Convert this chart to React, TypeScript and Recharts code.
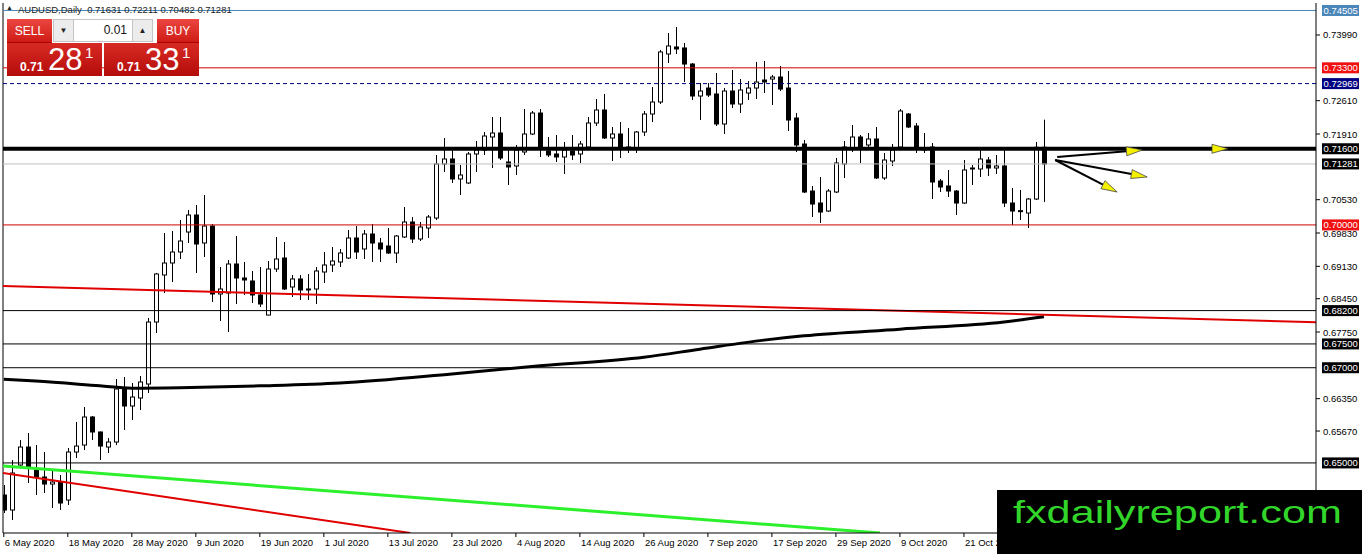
import React from 'react';
import { ComposedChart, Bar, Line, XAxis, YAxis, ReferenceLine } from 'recharts';

const FONT = '"Liberation Sans", Arial, sans-serif';

// AUDUSD daily candles, 6 May 2020 .. 4 Nov 2020
const opens = [
    0.64326, 0.64011, 0.64956, 0.65334, 0.64851, 0.64704, 0.64557, 0.64599, 0.64221, 0.65229,
    0.65376, 0.65965, 0.65650, 0.65334, 0.65439, 0.66553, 0.66196, 0.66364, 0.66658, 0.67960,
    0.68948, 0.69200, 0.69431, 0.69851, 0.70208, 0.69620, 0.69977, 0.68549, 0.68570, 0.69179,
    0.68885, 0.68822, 0.68528, 0.68107, 0.69074, 0.69305, 0.68696, 0.68864, 0.68654, 0.68654,
    0.69011, 0.69158, 0.69221, 0.69305, 0.69725, 0.69494, 0.69809, 0.69620, 0.69557, 0.69410,
    0.69746, 0.70061, 0.69704, 0.69935, 0.70145, 0.71280, 0.71385, 0.70965, 0.70881, 0.71490,
    0.71574, 0.71847, 0.71931, 0.71322, 0.71238, 0.71532, 0.71910, 0.72351, 0.71553, 0.71490,
    0.71427, 0.71553, 0.71490, 0.71637, 0.72141, 0.72414, 0.71826, 0.71910, 0.71595, 0.71616,
    0.71952, 0.72330, 0.72582, 0.73591, 0.73738, 0.73717, 0.73380, 0.72708, 0.72876, 0.72750,
    0.72120, 0.72813, 0.72540, 0.72771, 0.72876, 0.73044, 0.73065, 0.73107, 0.72876, 0.72246,
    0.71700, 0.70712, 0.70460, 0.70292, 0.70691, 0.71280, 0.71616, 0.71847, 0.71679, 0.71805,
    0.70986, 0.71343, 0.71637, 0.72330, 0.72078, 0.71616, 0.71637, 0.70923, 0.70818, 0.70712,
    0.70460, 0.71175, 0.71175, 0.71364, 0.71196, 0.71238, 0.70460, 0.70292, 0.70250, 0.70544,
    0.71631,
];
const highs = [
    0.64536, 0.65061, 0.65481, 0.65629, 0.65376, 0.65229, 0.64851, 0.64746, 0.65313, 0.65860,
    0.66175, 0.65986, 0.65660, 0.65523, 0.66763, 0.66805, 0.66679, 0.66826, 0.68044, 0.68990,
    0.69830, 0.69872, 0.70103, 0.70313, 0.70418, 0.70628, 0.70019, 0.69116, 0.69263, 0.69767,
    0.69221, 0.69032, 0.69116, 0.69242, 0.69746, 0.69641, 0.68948, 0.68948, 0.68969, 0.69116,
    0.69431, 0.69536, 0.69494, 0.69893, 0.69977, 0.69893, 0.70019, 0.69725, 0.69935, 0.69788,
    0.70376, 0.70166, 0.70061, 0.70208, 0.71469, 0.71826, 0.71574, 0.71259, 0.71532, 0.71763,
    0.71952, 0.72267, 0.72267, 0.71616, 0.71679, 0.72435, 0.72393, 0.72435, 0.71847, 0.71889,
    0.71742, 0.71889, 0.71763, 0.72267, 0.72645, 0.72750, 0.72057, 0.72162, 0.72036, 0.71973,
    0.72393, 0.72897, 0.73675, 0.74032, 0.74158, 0.73822, 0.73401, 0.72981, 0.72981, 0.73191,
    0.72876, 0.73254, 0.73065, 0.73023, 0.73423, 0.73444, 0.73149, 0.73338, 0.73233, 0.72351,
    0.71784, 0.70818, 0.71007, 0.70754, 0.71406, 0.71763, 0.72099, 0.71889, 0.71931, 0.72057,
    0.71511, 0.71700, 0.72435, 0.72351, 0.72141, 0.71931, 0.71721, 0.70965, 0.71154, 0.70733,
    0.71364, 0.71259, 0.71574, 0.71427, 0.71469, 0.71574, 0.70775, 0.70733, 0.70565, 0.71742,
    0.72211,
];
const lows = [
    0.63948, 0.63801, 0.64914, 0.64578, 0.64326, 0.64368, 0.64053, 0.64011, 0.64116, 0.65103,
    0.65271, 0.65481, 0.65061, 0.65208, 0.65376, 0.65692, 0.65902, 0.66112, 0.66469, 0.67729,
    0.68570, 0.68801, 0.69284, 0.69620, 0.68990, 0.69326, 0.68381, 0.67981, 0.67750, 0.68339,
    0.68528, 0.68360, 0.68276, 0.68100, 0.69011, 0.68633, 0.68486, 0.68423, 0.68423, 0.68339,
    0.68780, 0.69011, 0.69116, 0.69284, 0.69284, 0.69284, 0.69221, 0.69221, 0.69389, 0.69200,
    0.69725, 0.69620, 0.69662, 0.69725, 0.70103, 0.71112, 0.70881, 0.70628, 0.70860, 0.71112,
    0.71469, 0.71196, 0.71364, 0.70839, 0.71049, 0.71469, 0.71889, 0.71427, 0.71427, 0.71322,
    0.71070, 0.71364, 0.71301, 0.71616, 0.72078, 0.71805, 0.71343, 0.71406, 0.71511, 0.71511,
    0.71868, 0.72162, 0.72540, 0.73401, 0.73591, 0.73002, 0.72624, 0.72204, 0.72687, 0.72078,
    0.71910, 0.72456, 0.72351, 0.72624, 0.72645, 0.72771, 0.72519, 0.72813, 0.71973, 0.71532,
    0.70670, 0.70166, 0.70040, 0.70271, 0.70670, 0.70986, 0.71532, 0.71301, 0.71637, 0.70965,
    0.70944, 0.71238, 0.71616, 0.72036, 0.71511, 0.71511, 0.70544, 0.70691, 0.70586, 0.70208,
    0.70440, 0.70839, 0.71007, 0.71028, 0.71070, 0.70376, 0.69998, 0.70103, 0.69935, 0.70523,
    0.70482,
];
const closes = [
    0.64011, 0.64788, 0.65334, 0.64914, 0.64704, 0.64557, 0.64599, 0.64158, 0.65229, 0.65355,
    0.65965, 0.65650, 0.65355, 0.65439, 0.66553, 0.66196, 0.66385, 0.66700, 0.67960, 0.68969,
    0.69200, 0.69431, 0.69662, 0.70208, 0.69599, 0.69977, 0.68549, 0.68654, 0.69179, 0.68885,
    0.68843, 0.68528, 0.68339, 0.69074, 0.69284, 0.68654, 0.68864, 0.68633, 0.68633, 0.69032,
    0.69158, 0.69242, 0.69410, 0.69725, 0.69431, 0.69809, 0.69620, 0.69494, 0.69410, 0.69767,
    0.70061, 0.69704, 0.69956, 0.70166, 0.71280, 0.71385, 0.70965, 0.71049, 0.71490, 0.71574,
    0.71868, 0.71931, 0.71406, 0.71217, 0.71574, 0.71910, 0.72351, 0.71616, 0.71469, 0.71427,
    0.71574, 0.71469, 0.71700, 0.72141, 0.72414, 0.71826, 0.71910, 0.71616, 0.71637, 0.71952,
    0.72330, 0.72582, 0.73633, 0.73759, 0.73696, 0.73380, 0.72708, 0.72813, 0.72729, 0.72120,
    0.72813, 0.72540, 0.72834, 0.72876, 0.73002, 0.73002, 0.73107, 0.72855, 0.72204, 0.71679,
    0.70691, 0.70439, 0.70271, 0.70712, 0.71301, 0.71637, 0.71847, 0.71637, 0.71805, 0.70986,
    0.71364, 0.71574, 0.72393, 0.72057, 0.71637, 0.71574, 0.70902, 0.70797, 0.70712, 0.70460,
    0.71154, 0.71196, 0.71385, 0.71196, 0.71238, 0.70460, 0.70292, 0.70300, 0.70544, 0.71631,
    0.71281,
];

// time axis: one label every 8 bars
const dateTickIndex = [1, 9, 17, 25, 33, 41, 49, 57, 65, 73, 81, 89, 97, 105, 113, 121];
const dateTickLabels = [
    '6 May 2020', '18 May 2020', '28 May 2020', '9 Jun 2020', '19 Jun 2020', '1 Jul 2020',
    '13 Jul 2020', '23 Jul 2020', '4 Aug 2020', '14 Aug 2020', '26 Aug 2020', '7 Sep 2020',
    '17 Sep 2020', '29 Sep 2020', '9 Oct 2020', '21 Oct 2020',
];
const priceTicks = [0.7399, 0.7261, 0.7191, 0.7053, 0.6983, 0.6913, 0.6845, 0.6775, 0.6635, 0.6567];

// moving average, read at a few bars
const maIndex = [1, 5, 13, 17, 23, 33, 43, 57, 68, 81, 88, 96, 101, 113, 126, 131];
const maValues = [0.6676, 0.6672, 0.6662, 0.6657, 0.6658, 0.6662, 0.6668, 0.6687, 0.6704, 0.6722, 0.6739, 0.6758, 0.6767, 0.6781, 0.6796, 0.6807];

// horizontal levels
const levelPrices = [0.74505, 0.733, 0.72969, 0.716, 0.71281, 0.7, 0.682, 0.675, 0.67, 0.65];
const levelColors = ['#4a86b8', '#d40000', '#000080', '#000000', '#c0c0c0', '#d40000', '#000000', '#000000', '#000000', '#000000'];
const levelTagColors = ['#4a86b8', '#f01010', '#000080', '#000000', '#000000', '#f01010', '#000000', '#000000', '#000000', '#000000'];
const levelWidths = [1, 1, 1, 4, 1, 1, 1, 1, 1, 1];
const levelDash = ['', '', '4 3', '', '', '', '', '', '', ''];

// trend lines: [bar, price] endpoints
const trendUpperRed = [[0.9, 0.68717], [165, 0.67956]];
const trendGreen = [[0.9, 0.64935], [110.5, 0.63528]];
const trendLowerRed = [[0.9, 0.64788], [51.8, 0.63528]];

// arrows: [fromBar, fromPrice, toBar, toPrice]
const arrows = [
    [132.65, 0.71427, 143.3, 0.71574],
    [132.4, 0.71364, 143.9, 0.71007],
    [132.4, 0.71364, 140.15, 0.70691],
    [150.0, 0.716, 154.0, 0.716],
];

const X_DOMAIN = [0.9, 165];
const Y_DOMAIN = [0.63528, 0.74662];

const data = opens.map((open, k) => {
    const i = k + 1;
    const m = maIndex.indexOf(i);
    return { i, open, high: highs[k], low: lows[k], close: closes[k], ma: m >= 0 ? maValues[m] : null };
});

const Candle = (props: any) => {
    const { x, width, payload } = props;
    let { y, height } = props;
    if (height < 0) {
        y += height;
        height = -height;
    }
    const { open, close, high, low } = payload;
    const span = high - low || 1;
    const toY = (v: number) => y + ((high - v) / span) * height;
    const cx = Math.round(x + width / 2) + 0.5;
    const top = toY(Math.max(open, close));
    const bottom = toY(Math.min(open, close));
    const up = close >= open;
    return (
        <g>
            <line x1={cx} x2={cx} y1={y} y2={y + height} stroke="#000" strokeWidth={1} />
            <rect x={cx - 2} y={top} width={4} height={Math.max(bottom - top, 1)} fill={up ? '#fff' : '#000'} stroke="#000" strokeWidth={1} />
        </g>
    );
};

const DateTick = (props: any) => {
    const { x, y, payload } = props;
    const k = dateTickIndex.indexOf(payload.value);
    return (
        <g>
            <line x1={x} x2={x} y1={y} y2={y + 4} stroke="#000" />
            <text x={x + 1} y={y + 13} fontSize={9.5} fontFamily={FONT} fill="#000" textAnchor="start">
                {dateTickLabels[k]}
            </text>
        </g>
    );
};

const PriceTick = (props: any) => {
    const { x, y, payload } = props;
    return (
        <g>
            <line x1={x} x2={x + 4} y1={y} y2={y} stroke="#000" />
            <text x={x + 7} y={y + 3.5} fontSize={9.5} fontFamily={FONT} fill="#000" textAnchor="start">
                {Number(payload.value).toFixed(5)}
            </text>
        </g>
    );
};

const LevelTag = (props: any) => {
    const { viewBox, bg, text } = props;
    if (!viewBox) return null;
    const x = viewBox.x + viewBox.width + 6;
    const y = viewBox.y;
    return (
        <g>
            <rect x={x} y={y - 5.5} width={37} height={11} fill={bg} />
            <text x={x + 1.5} y={y + 3.5} fontSize={9.5} fontFamily={FONT} fill="#fff">
                {text}
            </text>
        </g>
    );
};

const ArrowShape = (props: any) => {
    const { x1, y1, x2, y2 } = props;
    if ([x1, y1, x2, y2].some((v) => typeof v !== 'number' || isNaN(v))) return null;
    const dx = x2 - x1;
    const dy = y2 - y1;
    const len = Math.sqrt(dx * dx + dy * dy) || 1;
    const ux = dx / len;
    const uy = dy / len;
    const bx = x2 - ux * 16;
    const by = y2 - uy * 16;
    const head = `${x2},${y2} ${bx - uy * 4.5},${by + ux * 4.5} ${bx + uy * 4.5},${by - ux * 4.5}`;
    return (
        <g>
            <line x1={x1} y1={y1} x2={bx} y2={by} stroke="#000" strokeWidth={2} />
            <polygon points={head} fill="#f5f000" stroke="#444" strokeWidth={0.8} />
        </g>
    );
};

const TradeBox = ({ left, big }: { left: number; big: string }) => (
    <div
        style={{
            position: 'absolute',
            left,
            top: 43,
            width: 95,
            height: 33,
            background: 'linear-gradient(#d82a24, #b40c0a)',
            color: '#fff',
        }}
    >
        <span style={{ position: 'absolute', left: 13, top: 17, fontSize: 12, fontWeight: 'bold', lineHeight: '14px' }}>0.71</span>
        <span style={{ position: 'absolute', left: 41, top: 1, fontSize: 31, lineHeight: '32px' }}>{big}</span>
        <span style={{ position: 'absolute', left: 78, top: 2, fontSize: 15, lineHeight: '16px' }}>1</span>
    </div>
);

export default function App() {
    return (
        <div
            style={{
                position: 'fixed',
                left: 0,
                top: 0,
                width: 1362,
                height: 554,
                background: '#fff',
                overflow: 'hidden',
                fontFamily: FONT,
            }}
        >
            <ComposedChart width={1362} height={554} data={data} margin={{ top: 3, right: 0, bottom: 0, left: 3 }}>
                <XAxis
                    dataKey="i"
                    type="number"
                    domain={X_DOMAIN}
                    allowDataOverflow
                    ticks={dateTickIndex}
                    interval={0}
                    height={21}
                    tickSize={0}
                    tickMargin={0}
                    tickLine={false}
                    axisLine={{ stroke: '#000' }}
                    tick={<DateTick />}
                />
                <YAxis
                    orientation="right"
                    type="number"
                    domain={Y_DOMAIN}
                    allowDataOverflow
                    ticks={priceTicks}
                    interval={0}
                    width={46}
                    tickSize={0}
                    tickMargin={0}
                    tickLine={false}
                    axisLine={{ stroke: '#000' }}
                    tick={<PriceTick />}
                />
                <ReferenceLine x={X_DOMAIN[0]} stroke="#000" ifOverflow="visible" />
                <Bar
                    dataKey={(d: any) => [d.low, d.high]}
                    barSize={5}
                    shape={(p: any) => <Candle {...p} />}
                    isAnimationActive={false}
                />
                <Line
                    dataKey="ma"
                    type="monotone"
                    connectNulls
                    stroke="#000"
                    strokeWidth={3}
                    dot={false}
                    activeDot={false}
                    isAnimationActive={false}
                />
                <ReferenceLine
                    segment={[{ x: trendUpperRed[0][0], y: trendUpperRed[0][1] }, { x: trendUpperRed[1][0], y: trendUpperRed[1][1] }]}
                    stroke="#e00000"
                    strokeWidth={2}
                    ifOverflow="hidden"
                />
                <ReferenceLine
                    segment={[{ x: trendGreen[0][0], y: trendGreen[0][1] }, { x: trendGreen[1][0], y: trendGreen[1][1] }]}
                    stroke="#2cf02c"
                    strokeWidth={3}
                    ifOverflow="hidden"
                />
                <ReferenceLine
                    segment={[{ x: trendLowerRed[0][0], y: trendLowerRed[0][1] }, { x: trendLowerRed[1][0], y: trendLowerRed[1][1] }]}
                    stroke="#e00000"
                    strokeWidth={2}
                    ifOverflow="hidden"
                />
                {levelPrices.map((p, k) => (
                    <ReferenceLine
                        key={`lvl-${k}`}
                        y={p}
                        stroke={levelColors[k]}
                        strokeWidth={levelWidths[k]}
                        strokeDasharray={levelDash[k] || undefined}
                        label={<LevelTag bg={levelTagColors[k]} text={p.toFixed(5)} />}
                    />
                ))}
                {arrows.map((a, k) => (
                    <ReferenceLine
                        key={`arr-${k}`}
                        segment={[{ x: a[0], y: a[1] }, { x: a[2], y: a[3] }]}
                        ifOverflow="visible"
                        shape={(p: any) => <ArrowShape {...p} />}
                    />
                ))}
            </ComposedChart>

            {/* header */}
            <div style={{ position: 'absolute', left: 6, top: 4, fontSize: 7, color: '#222', lineHeight: '8px' }}>▲</div>
            <div style={{ position: 'absolute', left: 18, top: 3, fontSize: 9.5, color: '#222', whiteSpace: 'pre', lineHeight: '13px' }}>
                {'AUDUSD,Daily  0.71631 0.72211 0.70482 0.71281'}
            </div>

            {/* one-click trading panel */}
            <div
                style={{
                    position: 'absolute', left: 7, top: 19, width: 45, height: 23,
                    background: 'linear-gradient(#ec4640, #cf1c16)', color: '#fff', fontSize: 12,
                    display: 'flex', alignItems: 'center', justifyContent: 'center', borderBottom: '1px solid #a00',
                }}
            >
                SELL
            </div>
            <div
                style={{
                    position: 'absolute', left: 53, top: 19, width: 98, height: 21,
                    background: '#fff', border: '1px solid #c4c4c4',
                }}
            >
                <div style={{ position: 'absolute', left: 0, top: 0, width: 19, height: 21, background: '#ececec', borderRight: '1px solid #c4c4c4', fontSize: 8, textAlign: 'center', lineHeight: '21px', color: '#222' }}>▼</div>
                <div style={{ position: 'absolute', right: 25, top: 0, height: 21, fontSize: 12, lineHeight: '21px', color: '#111' }}>0.01</div>
                <div style={{ position: 'absolute', right: 0, top: 0, width: 19, height: 21, background: '#ececec', borderLeft: '1px solid #c4c4c4', fontSize: 8, textAlign: 'center', lineHeight: '21px', color: '#222' }}>▲</div>
            </div>
            <div
                style={{
                    position: 'absolute', left: 157, top: 19, width: 42, height: 23,
                    background: 'linear-gradient(#ec4640, #cf1c16)', color: '#fff', fontSize: 12,
                    display: 'flex', alignItems: 'center', justifyContent: 'center', borderBottom: '1px solid #a00',
                }}
            >
                BUY
            </div>
            <TradeBox left={7} big="28" />
            <TradeBox left={104} big="33" />

            {/* watermark */}
            <div style={{ position: 'absolute', left: 997, top: 490, width: 365, height: 64, background: '#000' }} />
            <div
                style={{
                    position: 'absolute', left: 1013, top: 496, fontSize: 32, lineHeight: '32px',
                    color: '#32d62a', whiteSpace: 'nowrap', transform: 'scaleX(1.35)', transformOrigin: 'left top',
                }}
            >
                fxdailyreport.com
            </div>
        </div>
    );
}
